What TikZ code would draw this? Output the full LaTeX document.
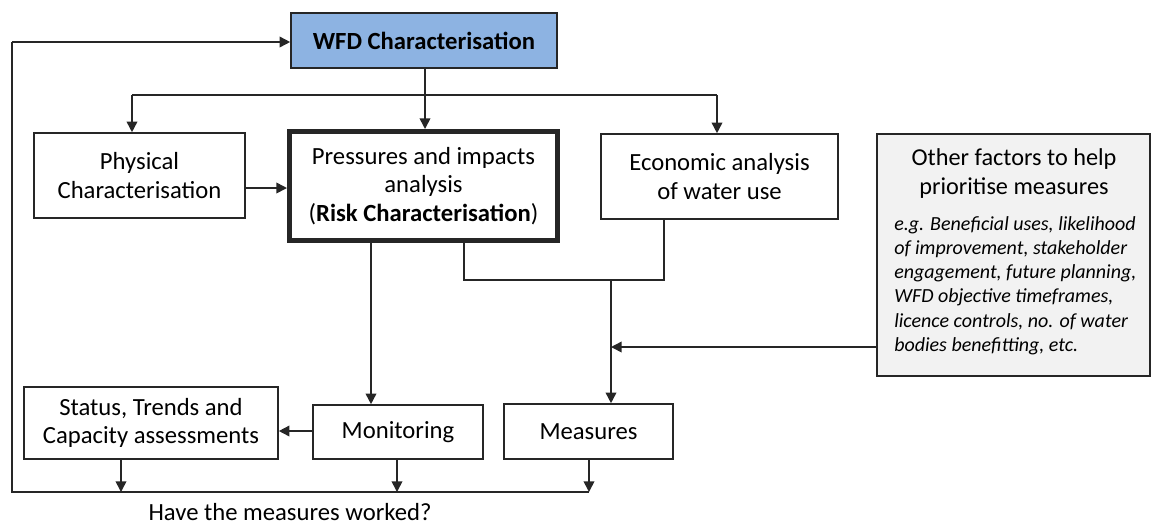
\documentclass[tikz,border=0pt]{standalone}
\usepackage{fontspec}
\setmainfont{Carlito}
\usetikzlibrary{arrows.meta}
\definecolor{wfdblue}{HTML}{8DB3E2}
\definecolor{othergray}{HTML}{F2F2F2}
\definecolor{linecol}{HTML}{262626}
\begin{document}
\begin{tikzpicture}[x=0.75pt,y=-0.75pt,
  box/.style={draw=linecol, line width=1.2pt, rectangle, inner sep=0pt, align=center,
              font=\fontsize{18.5}{21.5}\selectfont, fill=white},
  arr/.style={draw=linecol, line width=1.2pt, -{Triangle[length=8pt,width=8pt]}},
  ln/.style={draw=linecol, line width=1.2pt},
  plain/.style={inner sep=0pt, align=center, font=\fontsize{18.5}{21.5}\selectfont}]
\useasboundingbox (0,0) rectangle (1152,526);

% boxes
\node[box, fill=wfdblue, minimum width=199.5pt, minimum height=41.25pt] (wfd) at (424,40.5) {\textbf{WFD Characterisation}};
\node[box, minimum width=158.25pt, minimum height=63.75pt] (phys) at (139.5,175.5) {Physical\\Characterisation};
\node[box, line width=3.75pt, minimum width=201pt, minimum height=81.75pt] (press) at (423.5,186) {Pressures and impacts\\analysis\\(\textbf{Risk Characterisation})};
\node[box, minimum width=177.75pt, minimum height=63.75pt] (econ) at (719.5,176.5) {Economic analysis\\of water use};
\node[box, fill=othergray, minimum width=204.75pt, minimum height=181.5pt] (other) at (1013.5,255) {};
\node[plain, font=\fontsize{18.2}{22}\selectfont] (othertitle) at (1014,173.5) {Other factors to help\\prioritise measures};
\node[plain, anchor=north west, align=left, font=\fontsize{15}{18.2}\selectfont\itshape] (othertext) at (894,216) {e.g. Beneficial uses, likelihood\\of improvement, stakeholder\\engagement, future planning,\\WFD objective timeframes,\\licence controls, no. of water\\bodies benefitting, etc.};
\node[box, minimum width=190.5pt, minimum height=54pt] (status) at (151,423) {Status, Trends and\\Capacity assessments};
\node[box, minimum width=127.5pt, minimum height=40.5pt] (mon) at (398,432) {Monitoring};
\node[box, minimum width=126.75pt, minimum height=41.25pt] (meas) at (588.5,431.5) {Measures};
\node[plain] (question) at (290,512) {Have the measures worked?};

% junction coordinates
\coordinate (tl) at (12,42);
\coordinate (bl) at (12,492);
\coordinate (br) at (589,492);
\coordinate (pj) at (132,95);
\coordinate (ej) at (717,95);
\coordinate (wj) at (425,95);
\coordinate (pa) at (464,280);
\coordinate (ea) at (664,280);
\coordinate (mj) at (611,280);
\coordinate (oj) at (611,347);

% feedback loop
\draw[ln] (br) -- (bl) -- (tl);
\draw[arr] (tl) -- (tl -| wfd.west);

% from WFD
\draw[arr] (wfd.south -| wj) -- (wj |- press.north);
\draw[ln] (pj) -- (ej);
\draw[arr] (pj) -- (pj |- phys.north);
\draw[arr] (ej) -- (ej |- econ.north);

% physical -> pressures
\draw[arr] (phys.east |- 0,188) -- (press.west |- 0,188);

% pressures -> monitoring
\draw[arr] (press.south -| 371,0) -- (mon.north -| 371,0);

% pressures + economic -> measures
\draw[ln] (press.south -| pa) -- (pa) -- (ea) -- (econ.south -| ea);
\draw[arr] (mj) -- (mj |- meas.north);
\draw[arr] (other.west |- oj) -- (oj);

% monitoring -> status
\draw[arr] (mon.west |- 0,431) -- (status.east |- 0,431);

% down to loop
\draw[arr] (status.south -| 121,0) -- (121,492);
\draw[arr] (mon.south -| 397,0) -- (397,492);
\draw[arr] (meas.south -| br) -- (br);
\end{tikzpicture}
\end{document}
